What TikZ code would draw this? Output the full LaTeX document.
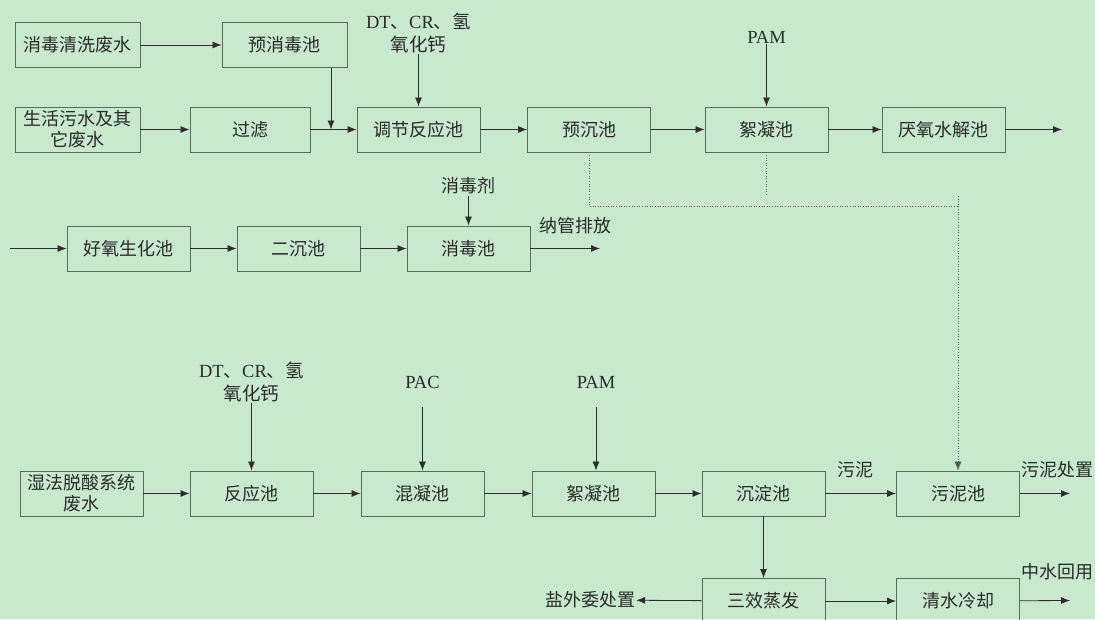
\documentclass[tikz,border=0pt]{standalone}
\usepackage{fontspec}
\setmainfont{Liberation Serif}
\newfontfamily\cjk{Noto Sans CJK SC}
\usetikzlibrary{arrows.meta}
\definecolor{bg}{HTML}{C9E9CF}
\definecolor{ln}{HTML}{2E2E2E}
\definecolor{bx}{HTML}{5A6A5C}
\definecolor{tx}{HTML}{2A2A2A}
\tikzset{
  box/.style={draw=bx, line width=0.9pt, minimum width=123pt, minimum height=45pt, inner sep=1pt, align=center, text=tx, font=\cjk\fontsize{18}{21}\selectfont},
  lbl/.style={inner sep=1pt, align=center, text=tx, font=\fontsize{18.5}{23}\selectfont},
  clbl/.style={inner sep=1pt, align=center, text=tx, font=\cjk\fontsize{18}{21}\selectfont},
  arr/.style={draw=ln, line width=0.8pt, -{Latex[length=9pt,width=7pt]}},
  dot/.style={draw=gray!70!black, line width=0.6pt, dotted},
}
\begin{document}
\begin{tikzpicture}[x=1pt,y=-1pt]
\fill[bg] (0,0) rectangle (1095,619);
\useasboundingbox (0,0) rectangle (1095,619);
% row 1
\node[box, minimum width=125pt] (a1) at (77.5,45) {消毒清洗废水};
\node[box, minimum width=125pt] (a2) at (284.5,45) {预消毒池};
\node[box, minimum width=125pt] (b1) at (77.5,129.5) {生活污水及其\\它废水};
\node[box, minimum width=120pt] (b2) at (250,129.5) {过滤};
\node[box] (b3) at (418.5,129.5) {调节反应池};
\node[box] (b4) at (589,129.5) {预沉池};
\node[box] (b5) at (766.5,129.5) {絮凝池};
\node[box] (b6) at (943.5,129.5) {厌氧水解池};
\node[lbl] (t1) at (418.5,33) {DT{\cjk 、}CR{\cjk 、氢}\\{\cjk 氧化钙}};
\node[lbl] (pam1) at (766.5,37) {PAM};
\coordinate (j) at (331,129.5);
\coordinate (o1) at (1062,129.5);
\draw[arr] (a1) -- (a2);
\draw[arr] (b1) -- (b2);
\draw[arr] (b2) -- (b3);
\draw[arr] (j |- a2.south) -- (j);
\draw[arr] (t1) -- (b3);
\draw[arr] (b3) -- (b4);
\draw[arr] (b4) -- (b5);
\draw[arr] (pam1) -- (b5);
\draw[arr] (b5) -- (b6);
\draw[arr] (b6) -- (o1);
% row 2
\node[box] (c1) at (128.5,248.5) {好氧生化池};
\node[box] (c2) at (298.5,248.5) {二沉池};
\node[box] (c3) at (468.5,248.5) {消毒池};
\node[clbl] (dis) at (468.5,186) {消毒剂};
\node[clbl] (nx) at (575,226) {纳管排放};
\coordinate (i2) at (10,248.5);
\coordinate (o2) at (600,248.5);
\draw[arr] (i2) -- (c1);
\draw[arr] (c1) -- (c2);
\draw[arr] (c2) -- (c3);
\draw[arr] (dis) -- (c3);
\draw[arr] (c3) -- (o2);
% row 3
\node[box] (d1) at (81.5,493.5) {湿法脱酸系统\\废水};
\node[box] (d2) at (251.5,493.5) {反应池};
\node[box] (d3) at (422.5,493.5) {混凝池};
\node[box] (d4) at (593.5,493.5) {絮凝池};
\node[box] (d5) at (763.5,493.5) {沉淀池};
\node[box] (d6) at (958,493.5) {污泥池};
\node[lbl] (t2) at (251.5,382) {DT{\cjk 、}CR{\cjk 、氢}\\{\cjk 氧化钙}};
\node[lbl] (pac) at (422.5,382) {PAC};
\node[lbl] (pam2) at (596,382) {PAM};
\node[clbl] (sl) at (855,470) {污泥};
\node[clbl] (sld) at (1057,470) {污泥处置};
\coordinate (o3) at (1070,493.5);
\draw[arr] (d1) -- (d2);
\draw[arr] (d2) -- (d3);
\draw[arr] (d3) -- (d4);
\draw[arr] (d4) -- (d5);
\draw[arr] (d5) -- (d6);
\draw[arr] (d6) -- (o3);
\draw[arr] (t2) -- (d2);
\draw[arr] (pac.south) ++(0,18) -- (d3.north);
\draw[arr] (pam2.south) ++(0,18) -- (pam2.south |- d4.north);
% row 4
\node[box] (e1) at (763.5,601) {三效蒸发};
\node[box] (e2) at (958,601) {清水冷却};
\node[clbl] (yw) at (590,600) {盐外委处置};
\node[clbl] (zs) at (1057,572) {中水回用};
\coordinate (o4) at (1070,600.5);
\draw[arr] (d5) -- (e1);
\draw[arr] (e1) -- (e2);
\draw[arr] (e2) -- (o4);
\draw[arr] (e1) -- (yw);
% dotted sludge lines
\coordinate (h) at (958,206);
\draw[dot] (b4.south) -- (b4.south |- h) -- (h);
\draw[dot] (b5.south) -- ++(0,43);
\draw[dot, -{Latex[length=9pt,width=7pt]}] (958,196) -- (d6.north);
\end{tikzpicture}
\end{document}
